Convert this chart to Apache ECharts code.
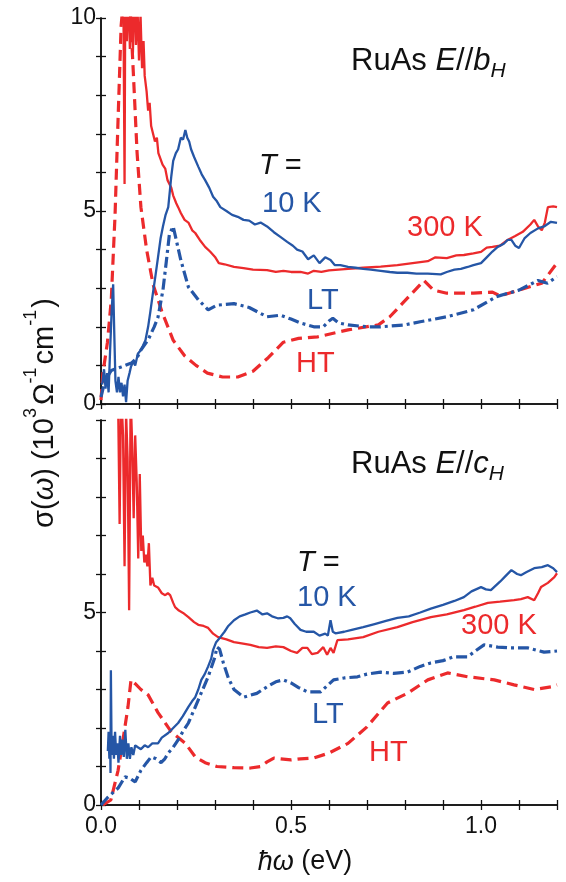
<!DOCTYPE html>
<html>
<head>
<meta charset="utf-8">
<script src="https://cdn.jsdelivr.net/npm/echarts@6/dist/echarts.min.js"></script>
<style>
html,body{margin:0;padding:0;background:#fff;}
#chart{width:566px;height:882px;}
</style>
</head>
<body>
<div id="chart"></div>
<script>
// ---------- DATA (x: photon energy in eV, y: sigma in 10^3 Ohm^-1 cm^-1) ----------
const xTicks = [0.0, 0.5, 1.0];
const yTicks = [0, 5, 10];

// Panel 1: E // b_H
const b_10K = [[0.003,0.5],[0.008,0.9],[0.012,0.4],[0.016,0.8],[0.02,0.3],[0.024,1.4],[0.028,2.4],[0.032,3.1],[0.035,1.8],[0.038,0.6],[0.042,0.3],[0.046,0.7],[0.05,0.3],[0.054,0.55],[0.058,0.2],[0.062,0.5],[0.066,0.05],[0.07,0.6],[0.075,0.8],[0.079,0.97],[0.085,1.1],[0.09,1.0],[0.097,1.3],[0.105,1.4],[0.11,1.5],[0.117,1.65],[0.124,2.0],[0.13,2.4],[0.137,2.9],[0.143,3.3],[0.15,3.8],[0.157,4.3],[0.163,4.6],[0.17,4.9],[0.177,5.1],[0.185,5.9],[0.19,6.3],[0.197,6.5],[0.203,6.6],[0.21,6.9],[0.216,6.85],[0.222,7.1],[0.227,6.9],[0.232,6.8],[0.237,6.6],[0.245,6.4],[0.256,6.15],[0.265,5.95],[0.274,5.8],[0.285,5.6],[0.295,5.37],[0.305,5.25],[0.314,5.1],[0.33,5.0],[0.345,4.9],[0.36,4.85],[0.375,4.77],[0.39,4.75],[0.405,4.65],[0.42,4.7],[0.437,4.6],[0.455,4.45],[0.472,4.33],[0.49,4.2],[0.505,4.1],[0.516,4.0],[0.53,3.95],[0.545,3.75],[0.56,3.85],[0.575,3.65],[0.59,3.8],[0.604,3.73],[0.615,3.6],[0.63,3.6],[0.65,3.55],[0.67,3.53],[0.69,3.5],[0.71,3.48],[0.736,3.45],[0.76,3.42],[0.78,3.4],[0.806,3.4],[0.83,3.38],[0.86,3.38],[0.894,3.36],[0.91,3.42],[0.93,3.48],[0.947,3.5],[0.965,3.55],[0.98,3.6],[1.0,3.65],[1.015,3.8],[1.03,3.95],[1.044,4.07],[1.06,4.15],[1.07,4.25],[1.08,4.25],[1.09,4.1],[1.1,4.04],[1.115,4.3],[1.13,4.43],[1.15,4.55],[1.166,4.6],[1.184,4.72],[1.2,4.69]];
const b_300K = [[0.058,12],[0.062,5.7],[0.064,11],[0.068,9.4],[0.072,10.8],[0.076,9.2],[0.08,10.6],[0.084,9.1],[0.088,11],[0.092,9.3],[0.096,10.3],[0.1,8.9],[0.104,10.1],[0.108,8.7],[0.112,9.4],[0.115,8.5],[0.12,8.1],[0.124,7.6],[0.128,7.8],[0.132,7.2],[0.137,7.0],[0.142,6.8],[0.147,6.9],[0.151,6.5],[0.156,6.5],[0.162,6.2],[0.169,6.1],[0.175,5.8],[0.185,5.6],[0.19,5.4],[0.198,5.2],[0.203,5.1],[0.21,4.95],[0.22,4.77],[0.23,4.7],[0.24,4.5],[0.248,4.43],[0.26,4.25],[0.274,4.07],[0.287,3.95],[0.3,3.81],[0.31,3.65],[0.325,3.62],[0.35,3.55],[0.375,3.52],[0.4,3.48],[0.437,3.47],[0.46,3.42],[0.48,3.45],[0.5,3.42],[0.525,3.42],[0.545,3.38],[0.56,3.45],[0.58,3.42],[0.6,3.46],[0.625,3.48],[0.65,3.5],[0.69,3.53],[0.736,3.56],[0.78,3.6],[0.82,3.65],[0.86,3.7],[0.88,3.8],[0.91,3.78],[0.935,3.85],[0.955,3.86],[0.98,3.9],[1.0,3.94],[1.015,4.05],[1.03,4.07],[1.05,4.1],[1.07,4.25],[1.09,4.35],[1.11,4.46],[1.13,4.65],[1.14,4.77],[1.15,4.6],[1.16,4.5],[1.168,4.7],[1.176,5.1],[1.19,5.12],[1.2,5.1]];
const b_LT = [[0,0.18],[0.01,0.6],[0.027,0.87],[0.053,0.96],[0.08,1.06],[0.095,1.2],[0.105,1.4],[0.124,1.66],[0.14,2.0],[0.15,2.25],[0.163,2.95],[0.172,3.7],[0.18,4.4],[0.19,4.6],[0.198,4.25],[0.21,3.73],[0.23,3.03],[0.256,2.7],[0.282,2.44],[0.305,2.56],[0.35,2.6],[0.39,2.5],[0.437,2.26],[0.472,2.3],[0.5,2.2],[0.525,2.1],[0.56,2.0],[0.585,2.0],[0.6,2.15],[0.61,2.22],[0.625,2.1],[0.65,2.05],[0.7,2.0],[0.736,2.0],[0.8,2.05],[0.84,2.13],[0.91,2.26],[0.98,2.44],[1.04,2.78],[1.1,2.95],[1.15,3.2],[1.175,3.13],[1.2,3.3]];
const b_HT = [[0,0.1],[0.005,0.8],[0.017,1.6],[0.027,2.7],[0.037,4.9],[0.045,7.4],[0.053,9.8],[0.06,10.6],[0.07,10.8],[0.077,10.2],[0.085,8.6],[0.095,6.5],[0.105,5.1],[0.12,4.0],[0.137,3.1],[0.16,2.4],[0.19,1.65],[0.22,1.25],[0.25,1.0],[0.28,0.8],[0.32,0.7],[0.36,0.7],[0.4,0.85],[0.44,1.2],[0.48,1.6],[0.52,1.7],[0.57,1.74],[0.65,1.92],[0.73,2.05],[0.76,2.26],[0.81,2.78],[0.85,3.2],[0.875,2.95],[0.91,2.87],[0.98,2.87],[1.03,2.9],[1.05,2.8],[1.1,2.95],[1.16,3.13],[1.2,3.65]];

// Panel 2: E // c_H
const c_10K = [[0.018,1.4],[0.02,1.9],[0.022,1.2],[0.024,1.7],[0.025,0.83],[0.026,3.5],[0.028,1.3],[0.031,1.8],[0.034,1.2],[0.037,1.9],[0.04,1.3],[0.043,1.6],[0.046,1.1],[0.05,1.8],[0.053,1.3],[0.056,1.7],[0.06,1.25],[0.064,1.95],[0.068,1.2],[0.072,1.6],[0.076,1.2],[0.08,1.5],[0.085,1.3],[0.09,1.55],[0.097,1.5],[0.105,1.45],[0.115,1.55],[0.124,1.5],[0.135,1.6],[0.15,1.6],[0.16,1.75],[0.177,1.87],[0.19,2.0],[0.203,2.13],[0.215,2.3],[0.23,2.55],[0.24,2.7],[0.248,2.8],[0.256,3.0],[0.264,3.25],[0.273,3.4],[0.282,3.6],[0.29,3.8],[0.295,4.03],[0.303,4.23],[0.314,4.36],[0.325,4.5],[0.335,4.65],[0.35,4.8],[0.365,4.9],[0.38,4.95],[0.393,5.0],[0.41,5.05],[0.425,4.95],[0.437,4.98],[0.45,4.9],[0.465,4.85],[0.48,4.86],[0.49,4.9],[0.498,4.85],[0.51,4.7],[0.525,4.55],[0.54,4.5],[0.56,4.5],[0.575,4.4],[0.59,4.45],[0.597,4.4],[0.604,4.8],[0.61,4.5],[0.617,4.46],[0.64,4.5],[0.66,4.55],[0.69,4.62],[0.72,4.7],[0.75,4.78],[0.78,4.86],[0.81,4.9],[0.84,5.0],[0.868,5.1],[0.9,5.2],[0.93,5.3],[0.955,5.4],[0.975,5.55],[1.0,5.66],[1.013,5.6],[1.026,5.58],[1.05,5.8],[1.065,5.95],[1.08,6.1],[1.095,6.0],[1.105,5.97],[1.12,6.05],[1.14,6.15],[1.16,6.18],[1.176,6.23],[1.19,6.15],[1.2,6.05]];
const c_300K = [[0.035,11],[0.045,10.5],[0.049,7.3],[0.053,10.8],[0.058,9.6],[0.062,6.2],[0.066,10.2],[0.07,9.0],[0.074,5.06],[0.078,10.6],[0.082,9.4],[0.086,7.45],[0.09,9.6],[0.094,8.4],[0.098,6.4],[0.102,8.6],[0.106,6.6],[0.11,7.0],[0.114,6.3],[0.118,6.5],[0.122,6.2],[0.126,6.8],[0.13,5.7],[0.135,5.9],[0.14,5.7],[0.15,5.65],[0.16,5.5],[0.169,5.45],[0.176,5.5],[0.182,5.45],[0.19,5.25],[0.195,5.14],[0.205,5.05],[0.216,4.99],[0.23,4.88],[0.245,4.75],[0.256,4.68],[0.27,4.65],[0.282,4.6],[0.295,4.45],[0.308,4.36],[0.33,4.3],[0.35,4.23],[0.37,4.2],[0.393,4.16],[0.415,4.1],[0.437,4.08],[0.46,4.12],[0.48,4.1],[0.5,4.0],[0.516,3.95],[0.53,4.08],[0.543,4.08],[0.555,3.92],[0.57,3.95],[0.585,4.1],[0.595,3.9],[0.604,4.08],[0.612,3.95],[0.622,4.28],[0.65,4.3],[0.69,4.36],[0.73,4.5],[0.78,4.62],[0.82,4.75],[0.868,4.88],[0.91,4.95],[0.955,5.06],[0.985,5.15],[1.018,5.25],[1.05,5.28],[1.087,5.32],[1.105,5.35],[1.123,5.4],[1.14,5.32],[1.15,5.5],[1.158,5.66],[1.176,5.77],[1.193,5.92],[1.2,6.02]];
const c_LT = [[0,0],[0.018,0.2],[0.045,0.44],[0.063,0.73],[0.075,0.7],[0.09,0.6],[0.105,0.9],[0.12,1.1],[0.132,1.25],[0.145,1.2],[0.158,1.1],[0.168,1.2],[0.177,1.35],[0.19,1.5],[0.203,1.69],[0.215,1.9],[0.23,2.13],[0.256,2.73],[0.282,3.33],[0.3,3.85],[0.305,4.1],[0.312,4.05],[0.322,3.69],[0.335,3.3],[0.35,3.0],[0.375,2.8],[0.41,2.9],[0.437,3.07],[0.46,3.2],[0.48,3.25],[0.5,3.17],[0.52,3.05],[0.543,2.94],[0.578,2.94],[0.612,3.25],[0.64,3.3],[0.675,3.33],[0.7,3.4],[0.736,3.45],[0.77,3.42],[0.806,3.45],[0.84,3.6],[0.868,3.69],[0.9,3.75],[0.928,3.85],[0.965,3.85],[0.985,4.0],[1.008,4.16],[1.044,4.1],[1.078,4.08],[1.123,4.08],[1.166,3.97],[1.2,4.0]];
const c_HT = [[0.005,0],[0.026,0.13],[0.045,0.9],[0.058,1.7],[0.071,2.55],[0.079,3.25],[0.09,3.15],[0.105,3.0],[0.124,2.86],[0.15,2.4],[0.185,1.9],[0.222,1.6],[0.248,1.25],[0.274,1.1],[0.305,1.0],[0.35,0.97],[0.393,0.96],[0.42,1.0],[0.437,1.12],[0.455,1.22],[0.5,1.17],[0.525,1.2],[0.56,1.22],[0.6,1.35],[0.65,1.6],[0.7,2.03],[0.754,2.65],[0.806,2.9],[0.86,3.25],[0.912,3.43],[0.965,3.33],[1.035,3.25],[1.087,3.12],[1.14,3.0],[1.184,3.07],[1.2,3.12]];

// ---------- STYLE ----------
const RED = '#ec2a2c';
const BLUE = '#2556a6';
const FONT = '"Liberation Sans", Arial, Helvetica, sans-serif';
const AX = '#111';

const chart = echarts.init(document.getElementById('chart'), null, {renderer: 'canvas'});

const grids = [
  {left: 101, top: 18, width: 456, height: 386},
  {left: 101, top: 420, width: 456, height: 385}
];

function near(v, list){ return list.some(t => Math.abs(t - v) < 1e-6); }

const xAxes = [], yAxes = [];
grids.forEach((g, gi) => {
  const base = {type: 'value', gridIndex: gi, min: 0, max: 1.2, interval: 0.1,
    axisLine: {show: true, lineStyle: {color: AX, width: 1.5}},
    axisTick: {show: true, inside: true, length: 5, lineStyle: {color: AX, width: 1.3}},
    splitLine: {show: false}};
  xAxes.push(Object.assign({}, base, {position: 'bottom',
    axisLabel: {show: gi === 1, margin: 10, fontSize: 23, color: '#111', fontFamily: FONT,
      formatter: v => near(v, xTicks) ? v.toFixed(1) : ''}}));
  xAxes.push(Object.assign({}, base, {position: 'top', axisLabel: {show: false}}));
  const ybase = {type: 'value', gridIndex: gi, min: 0, max: 10, interval: 1,
    axisLine: {show: true, lineStyle: {color: AX, width: 1.5}},
    axisTick: {show: true, inside: true, length: 5, lineStyle: {color: AX, width: 1.3}},
    splitLine: {show: false}};
  yAxes.push(Object.assign({}, ybase, {position: 'left',
    axisLabel: {show: true, margin: 5, fontSize: 23, color: '#111', fontFamily: FONT,
      formatter: v => (near(v, yTicks) && !(gi === 1 && v === 10)) ? String(v) : ''}}));
  yAxes.push(Object.assign({}, ybase, {position: 'right', axisLabel: {show: false}}));
});

function line(data, gi, color, type, width){
  return {type: 'line', data, xAxisIndex: gi*2, yAxisIndex: gi*2, showSymbol: false,
    clip: true, animation: false, silent: true,
    lineStyle: {color, width, type}};
}
const DASH = [11, 6];
const DASHDOT = [11, 4, 3, 4];

const series = [
  line(b_HT, 0, RED, DASH, 3.2),
  line(b_LT, 0, BLUE, DASHDOT, 3.2),
  line(b_300K, 0, RED, 'solid', 2.3),
  line(b_10K, 0, BLUE, 'solid', 2.3),
  line(c_HT, 1, RED, DASH, 3.2),
  line(c_LT, 1, BLUE, DASHDOT, 3.2),
  line(c_300K, 1, RED, 'solid', 2.3),
  line(c_10K, 1, BLUE, 'solid', 2.3)
];

// ---------- TEXT HELPERS ----------
const mctx = document.createElement('canvas').getContext('2d');
function fontStr(p){ return (p.italic ? 'italic ' : '') + p.size + 'px ' + FONT; }
function row(pieces, x, y, opts){
  opts = opts || {};
  const widths = pieces.map(p => { mctx.font = fontStr(p); return mctx.measureText(p.text).width; });
  const total = widths.reduce((a, b) => a + b, 0);
  let cx = opts.align === 'center' ? -total/2 : 0;
  const children = pieces.map((p, i) => {
    const el = {type: 'text', x: cx, y: p.dy || 0,
      style: {text: p.text, font: fontStr(p), fill: p.color || '#111',
        textAlign: 'left', textVerticalAlign: 'middle', verticalAlign: 'middle'}};
    cx += widths[i] + (p.gap || 0);
    return el;
  });
  return {type: 'group', x, y, rotation: opts.rotation || 0, silent: true, children};
}
const A = 29; // annotation font size
const TT = 31; // panel title font size
function label(text, color, x, y){ return row([{text, size: A, color}], x, y); }
function tEq(x, y){ return row([{text: 'T', size: A, italic: true}, {text: ' =', size: A}], x, y); }
function title(letter, x, y){
  return row([{text: 'RuAs ', size: TT}, {text: 'E', size: TT, italic: true},
              {text: '//', size: TT}, {text: letter, size: TT, italic: true},
              {text: 'H', size: 21, italic: true, dy: 10}], x, y);
}

const graphics = [
  title('b', 351, 61),
  tEq(259, 166),
  label('10 K', BLUE, 262, 204),
  label('300 K', RED, 407, 228),
  label('LT', BLUE, 307, 301),
  label('HT', RED, 296, 364),
  title('c', 351, 464),
  tEq(297, 563),
  label('10 K', BLUE, 297, 598),
  label('300 K', RED, 461, 626),
  label('LT', BLUE, 312, 715),
  label('HT', RED, 369, 753),
  // x-axis title
  row([{text: '\u0127\u03C9', size: 27, italic: true}, {text: ' (eV)', size: 27}], 305, 862, {align: 'center'}),
  // y-axis title (rotated)
  row([{text: '\u03C3(', size: 29}, {text: '\u03C9', size: 29, italic: true}, {text: ') (10', size: 29},
       {text: '3', size: 18, dy: -14, gap: 3}, {text: '\u03A9', size: 29},
       {text: '-1', size: 18, dy: -14, gap: 3}, {text: 'cm', size: 29},
       {text: '-1', size: 18, dy: -14, gap: 2}, {text: ')', size: 29}],
      45, 417, {align: 'center', rotation: Math.PI/2})
];

chart.setOption({
  animation: false,
  backgroundColor: '#fff',
  grid: grids,
  xAxis: xAxes,
  yAxis: yAxes,
  series,
  graphic: graphics
});
</script>
</body>
</html>
